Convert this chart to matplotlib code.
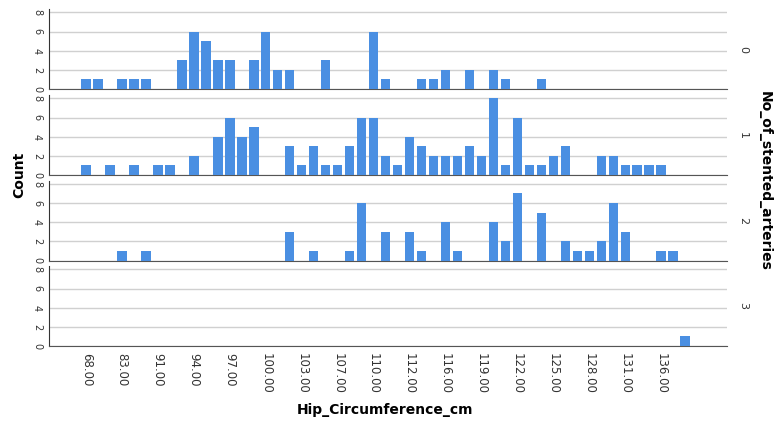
import matplotlib.pyplot as plt
import numpy as np

# tick labels shown on every third category (Hip_Circumference_cm)
tick_labels = ["68.00", "83.00", "91.00", "94.00", "97.00", "100.00", "103.00",
               "107.00", "110.00", "112.00", "116.00", "119.00", "122.00",
               "125.00", "128.00", "131.00", "136.00"]

# counts per category (51 categories) for each No_of_stented_arteries group
counts_0 = [1, 1, 0, 1, 1, 1, 0, 0, 3, 6, 5, 3, 3, 0, 3, 6, 2, 2, 0, 0,
            3, 0, 0, 0, 6, 1, 0, 0, 1, 1, 2, 0, 2, 0, 2, 1, 0, 0, 1, 0,
            0, 0, 0, 0, 0, 0, 0, 0, 0, 0, 0]
counts_1 = [1, 0, 1, 0, 1, 0, 1, 1, 0, 2, 0, 4, 6, 4, 5, 0, 0, 3, 1, 3,
            1, 1, 3, 6, 6, 2, 1, 4, 3, 2, 2, 2, 3, 2, 8, 1, 6, 1, 1, 2,
            3, 0, 0, 2, 2, 1, 1, 1, 1, 0, 0]
counts_2 = [0, 0, 0, 1, 0, 1, 0, 0, 0, 0, 0, 0, 0, 0, 0, 0, 0, 3, 0, 1,
            0, 0, 1, 6, 0, 3, 0, 3, 1, 0, 4, 1, 0, 0, 4, 2, 7, 0, 5, 0,
            2, 1, 1, 2, 6, 3, 0, 0, 1, 1, 0]
counts_3 = [0] * 50 + [1]

groups = ["0", "1", "2", "3"]
all_counts = [counts_0, counts_1, counts_2, counts_3]

W, H = 774, 426
fig = plt.figure(figsize=(W / 100, H / 100), dpi=100)

bar_color = "#4a8fe2"
left, right = 49 / W, 727 / W
baselines = [89, 175, 260.5, 346]
panel_h = 80

x = np.arange(len(counts_0))
axes = []
for k, (grp, counts) in enumerate(zip(groups, all_counts)):
    bottom = 1 - baselines[k] / H
    ax = fig.add_axes([left, bottom, right - left, panel_h / H])
    ax.bar(x, counts, width=0.78, color=bar_color, zorder=3)
    ax.set_xlim(-3.1, 53.5)
    ax.set_ylim(0, 8.35)
    ax.set_yticks([0, 2, 4, 6, 8])
    ax.set_yticklabels(["0", "2", "4", "6", "8"], rotation=270,
                       fontsize=7, color="#333333", va="center")
    ax.yaxis.grid(True, color="#d0d0d0", linewidth=1)
    ax.set_axisbelow(True)
    for s in ["top", "right"]:
        ax.spines[s].set_visible(False)
    ax.spines["bottom"].set_color("#555555")
    ax.spines["left"].set_color("#333333")
    ax.tick_params(length=0, pad=5)
    ax.text(1.016, 0.5, grp, transform=ax.transAxes, rotation=270,
            va="center", ha="left", fontsize=8, color="#333333")
    if k < 3:
        ax.set_xticks([])
    else:
        ax.set_xticks(np.arange(0, 51, 3))
        ax.set_xticklabels(tick_labels, rotation=270, fontsize=8.5,
                           color="#333333", va="top", ha="center")
        ax.tick_params(axis="x", pad=5)
    axes.append(ax)

fig.text(19 / W, 1 - 175 / H, "Count", rotation=90, fontsize=10,
         fontweight="bold", ha="center", va="center")
fig.text(765 / W, 1 - 181 / H, "No_of_stented_arteries", rotation=270,
         fontsize=10, fontweight="bold", ha="center", va="center")
fig.text(385 / W, 1 - 410 / H, "Hip_Circumference_cm", fontsize=10,
         fontweight="bold", ha="center", va="center")

fig.savefig("out.png", dpi=100)
